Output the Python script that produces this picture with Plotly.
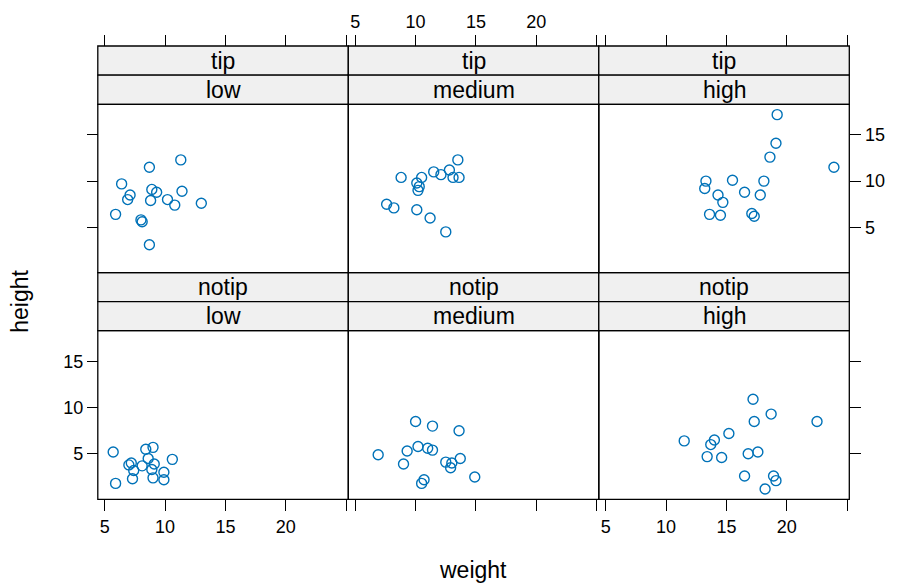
import plotly.graph_objects as go

W, H = 898, 584
ROWS = ["tip", "notip"]
COLS = ["low", "medium", "high"]

# weight (x) / height (y) for each panel
tip_low_x = [11.3, 8.7, 6.4, 8.9, 9.3, 11.4, 7.1, 6.9, 8.8, 10.2, 10.8, 13.0, 5.9, 8.0, 8.1, 8.7]
tip_low_y = [12.3, 11.5, 9.7, 9.1, 8.8, 8.9, 8.5, 8.0, 7.9, 8.0, 7.4, 7.6, 6.4, 5.8, 5.6, 3.1]
tip_medium_x = [13.5, 8.8, 10.5, 11.5, 12.1, 12.8, 13.1, 13.6, 10.1, 10.3, 10.2, 7.6, 8.2, 10.1, 11.2, 12.5]
tip_medium_y = [12.3, 10.4, 10.4, 11.0, 10.7, 11.2, 10.4, 10.4, 9.8, 9.4, 9.0, 7.5, 7.1, 6.9, 6.0, 4.5]
tip_high_x = [19.2, 19.1, 18.6, 23.9, 13.3, 15.5, 18.1, 13.2, 16.5, 14.3, 17.8, 14.7, 13.6, 14.5, 17.1, 17.3]
tip_high_y = [17.2, 14.1, 12.6, 11.5, 10.0, 10.1, 10.0, 9.2, 8.8, 8.5, 8.5, 7.7, 6.4, 6.3, 6.5, 6.2]
notip_low_x = [5.7, 8.4, 9.0, 10.6, 8.6, 7.0, 7.2, 7.4, 8.1, 9.1, 8.9, 9.9, 7.3, 9.0, 9.9, 5.9]
notip_low_y = [5.2, 5.5, 5.7, 4.4, 4.5, 3.8, 4.0, 3.2, 3.7, 3.9, 3.3, 3.0, 2.3, 2.4, 2.2, 1.8]
notip_medium_x = [10.0, 11.4, 13.6, 6.9, 9.3, 10.2, 11.0, 11.4, 9.0, 12.5, 13.0, 13.7, 12.9, 14.9, 10.7, 10.5]
notip_medium_y = [8.5, 8.0, 7.5, 4.9, 5.3, 5.8, 5.6, 5.4, 3.9, 4.1, 4.0, 4.5, 3.5, 2.5, 2.2, 1.8]
notip_high_x = [17.2, 18.7, 17.3, 22.5, 15.2, 11.5, 14.0, 13.7, 13.4, 14.6, 16.8, 17.6, 16.5, 18.9, 19.1, 18.2]
notip_high_y = [10.9, 9.3, 8.5, 8.5, 7.2, 6.4, 6.5, 6.0, 4.7, 4.6, 5.0, 5.2, 2.6, 2.6, 2.1, 1.2]

x_ticks = [5, 10, 15, 20, 25]
x_ticktext = ["5", "10", "15", "20", ""]
y_ticks = [5, 10, 15]

panels = [
    [(tip_low_x, tip_low_y), (tip_medium_x, tip_medium_y), (tip_high_x, tip_high_y)],
    [(notip_low_x, notip_low_y), (notip_medium_x, notip_medium_y), (notip_high_x, notip_high_y)],
]

POINT = "#0072b8"
STRIP = "#f0f0f0"
FONT = "Liberation Sans, Arial, sans-serif"

# pixel layout of the lattice
col_px = [(97.8, 348.3), (348.3, 598.8), (598.8, 849.3)]
row_px = [(46.0, 104.3, 272.7), (272.7, 330.7, 499.3)]  # strip top, panel top, panel bottom

def pad(vals, f=0.07):
    lo, hi = min(vals), max(vals)
    return [lo - f * (hi - lo), hi + f * (hi - lo)]

all_x = [v for row in panels for p in row for v in p[0]]
all_y = [v for row in panels for p in row for v in p[1]]
xr, yr = pad(all_x), pad(all_y)

px = lambda v: v / W
py = lambda v: 1 - v / H

fig = go.Figure()
shapes, annotations, axes = [], [], {}
for r in range(2):
    st, pt, pb = row_px[r]
    sh = (pt - st) / 2
    for c in range(3):
        i = r * 3 + c + 1
        l, rt = col_px[c]
        xs, ys = panels[r][c]
        fig.add_trace(go.Scatter(
            x=xs, y=ys, mode="markers", xaxis=f"x{i}", yaxis=f"y{i}", showlegend=False,
            marker=dict(symbol="circle-open", size=10, color=POINT, line=dict(width=1.4, color=POINT)),
        ))
        axes[f"xaxis{i}"] = dict(
            domain=[px(l), px(rt)], range=xr, anchor="free",
            position=py(st) if r == 0 else py(pb), side="top" if r == 0 else "bottom",
            tickvals=x_ticks, ticktext=x_ticktext, ticks="outside", ticklen=11, tickwidth=1, tickcolor="black",
            showticklabels=(r == 0 and c == 1) or (r == 1 and c != 1),
            showgrid=False, zeroline=False, showline=False, fixedrange=True,
        )
        ydict = dict(
            domain=[py(pb), py(pt)], range=yr, tickvals=y_ticks, showgrid=False, zeroline=False,
            showline=False, fixedrange=True,
        )
        if c == 1:
            ydict.update(anchor=f"x{i}", ticks="", showticklabels=False)
        else:
            ydict.update(anchor="free", position=px(l) if c == 0 else px(rt), side="left" if c == 0 else "right",
                         ticks="outside", ticklen=11, tickwidth=1, tickcolor="black",
                         showticklabels=(c == 0 and r == 1) or (c == 2 and r == 0))
        axes[f"yaxis{i}"] = ydict

        line = dict(color="black", width=1.3)
        shapes.append(dict(type="rect", xref="paper", yref="paper", x0=px(l), x1=px(rt), y0=py(pb), y1=py(pt), line=line))
        for k, label in enumerate([ROWS[r], COLS[c]]):
            y0, y1 = st + k * sh, st + (k + 1) * sh
            shapes.append(dict(type="rect", xref="paper", yref="paper", x0=px(l), x1=px(rt), y0=py(y1), y1=py(y0),
                               fillcolor=STRIP, line=line, layer="below"))
            annotations.append(dict(text=label, xref="paper", yref="paper", x=px((l + rt) / 2), y=py((y0 + y1) / 2),
                                    showarrow=False, xanchor="center", yanchor="middle", font=dict(size=23, color="black")))

annotations.append(dict(text="weight", xref="paper", yref="paper", x=px(473.5), y=py(570), showarrow=False,
                        xanchor="center", yanchor="middle", font=dict(size=23, color="black")))
annotations.append(dict(text="height", xref="paper", yref="paper", x=px(20), y=py(301.8), showarrow=False, textangle=-90,
                        xanchor="center", yanchor="middle", font=dict(size=23, color="black")))

fig.update_layout(
    width=W, height=H, margin=dict(l=0, r=0, t=0, b=0),
    paper_bgcolor="white", plot_bgcolor="rgba(0,0,0,0)",
    font=dict(family=FONT, size=18, color="black"),
    shapes=shapes, annotations=annotations, **axes,
)
fig.write_html("out.html", config=dict(displayModeBar=False), post_script="document.body.style.margin='0';")
